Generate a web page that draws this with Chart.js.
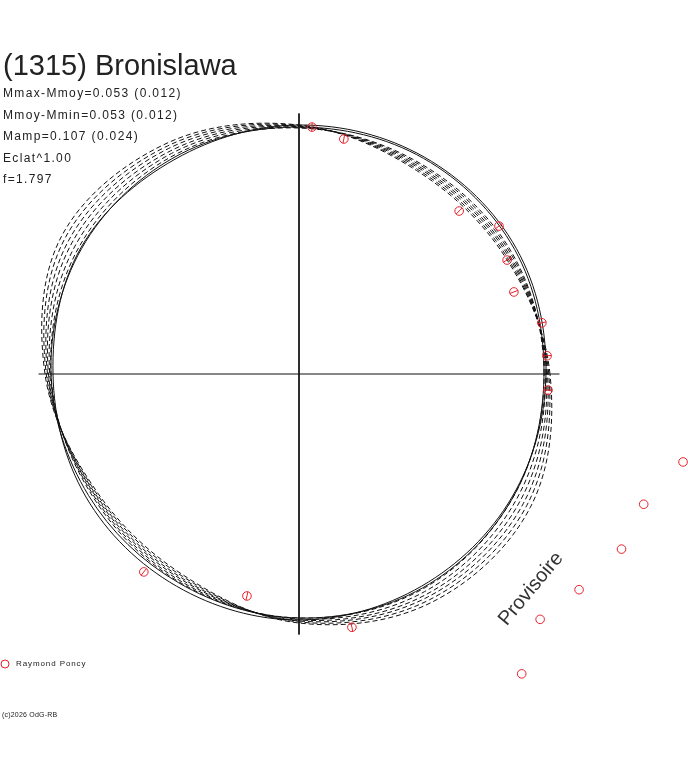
<!DOCTYPE html>
<html>
<head>
<meta charset="utf-8">
<title>(1315) Bronislawa</title>
<script src="https://cdn.jsdelivr.net/npm/chart.js@4.4.1/dist/chart.umd.min.js"></script>
<style>
  html, body { margin: 0; padding: 0; background: #fff; }
  #wrap { position: relative; width: 688px; height: 768px; }
</style>
</head>
<body>
<div id="wrap"><canvas id="polar-chart"></canvas></div>
<script>
'use strict';

// Phase angles of the model curves (deg, counter-clockwise from +x)
let phaseDeg = [0, 30, 60, 90, 120, 150, 180, 210, 240, 270, 300, 330];

// Model curves, relative flux at each phase angle
let solidA = [0.988, 1.004, 1.002, 0.996, 0.992, 1.008, 0.984, 0.984, 0.980, 0.984, 0.980, 0.984];
let solidB = [0.980, 0.996, 0.996, 0.988, 1.000, 1.004, 0.992, 0.972, 0.964, 0.976, 0.988, 0.988];
let dashed1 = [0.980, 0.980, 0.972, 0.984, 1.008, 1.016, 0.992, 0.960, 0.960, 0.976, 0.992, 0.988];
let dashed2 = [0.985, 0.974, 0.966, 0.986, 1.019, 1.032, 0.997, 0.955, 0.954, 0.980, 1.005, 1.004];
let dashed3 = [0.990, 0.967, 0.959, 0.989, 1.030, 1.049, 1.002, 0.950, 0.947, 0.984, 1.018, 1.020];
let dashed4 = [0.994, 0.961, 0.953, 0.991, 1.042, 1.065, 1.006, 0.946, 0.941, 0.988, 1.030, 1.036];
let dashed5 = [0.999, 0.954, 0.946, 0.994, 1.053, 1.082, 1.011, 0.941, 0.934, 0.992, 1.043, 1.052];
let dashed6 = [1.004, 0.948, 0.940, 0.996, 1.064, 1.098, 1.016, 0.936, 0.928, 0.996, 1.056, 1.068];

// Observations (Raymond Poncy): phase angle, relative flux, error
let obsPhase = [87.0, 79.2, 45.5, 36.5, 28.7, 20.9, 11.9, 4.2, 356.3, 231.9, 256.8, 281.8,
  347.1, 339.3, 331.5, 322.4, 314.5, 306.6];
let obsFlux = [0.989, 0.957, 0.914, 0.995, 0.949, 0.920, 0.993, 0.995, 0.998, 1.006, 0.912, 1.035,
  1.576, 1.474, 1.468, 1.414, 1.376, 1.494];
let obsErr = [0.017, 0.017, 0.017, 0.017, 0.017, 0.017, 0.017, 0.017, 0.017, 0.017, 0.017, 0.017,
  0, 0, 0, 0, 0, 0];

// Texts
let titleText = '(1315) Bronislawa';
let infoLines = ['Mmax-Mmoy=0.053 (0.012)', 'Mmoy-Mmin=0.053 (0.012)', 'Mamp=0.107 (0.024)', 'Eclat^1.00', 'f=1.797'];
let observerName = 'Raymond Poncy';
let creditText = '(c)2026 OdG-RB';
let stampText = 'Provisoire';

let axisReach = 1.042;
let red = '#e8202a';
let ink = '#111';

function toXY(angles, radii) {
  return angles.map(function (a, i) {
    let t = a * Math.PI / 180;
    return { x: radii[i] * Math.cos(t), y: radii[i] * Math.sin(t) };
  });
}

function errorBars() {
  let pts = [];
  for (let i = 0; i < obsPhase.length; i++) {
    if (!obsErr[i]) continue;
    let t = obsPhase[i] * Math.PI / 180;
    let lo = obsFlux[i] - obsErr[i];
    let hi = obsFlux[i] + obsErr[i];
    pts.push({ x: lo * Math.cos(t), y: lo * Math.sin(t) });
    pts.push({ x: hi * Math.cos(t), y: hi * Math.sin(t) });
    pts.push({ x: NaN, y: NaN });
  }
  return pts;
}

function curve(values, dashed) {
  return {
    data: toXY(phaseDeg, values),
    closed: true,
    borderColor: ink,
    borderWidth: 1,
    borderDash: dashed ? [5, 3] : [],
    tension: 0.35,
    pointRadius: 0
  };
}

// line element closes the curve smoothly (like the radar chart does)
const closedCurves = {
  id: 'closedCurves',
  afterDatasetUpdate(chart, args) {
    if (chart.data.datasets[args.index].closed) {
      args.meta.dataset._loop = true;
      args.meta.dataset._fullLoop = true;
    }
  }
};

const labels = {
  id: 'labels',
  afterDraw(chart) {
    const c = chart.ctx;
    c.save();
    c.fillStyle = '#222';
    c.textBaseline = 'alphabetic';
    c.textAlign = 'left';
    c.font = '29px "Liberation Sans", Arial, sans-serif';
    c.fillText(titleText, 3, 75);

    c.font = '12px "Liberation Sans", Arial, sans-serif';
    c.letterSpacing = '1.35px';
    for (let i = 0; i < infoLines.length; i++) {
      c.fillText(infoLines[i], 3, 97 + i * 21.5);
    }

    // legend
    c.strokeStyle = red;
    c.lineWidth = 1;
    c.beginPath();
    c.arc(5, 664, 4, 0, Math.PI * 2);
    c.stroke();
    c.font = '8px "Liberation Sans", Arial, sans-serif';
    c.letterSpacing = '0.9px';
    c.textBaseline = 'middle';
    c.fillText(observerName, 16, 664);

    c.font = '7px "Liberation Sans", Arial, sans-serif';
    c.letterSpacing = '0.2px';
    c.fillText(creditText, 2, 715);

    // stamp
    c.letterSpacing = '0px';
    c.fillStyle = '#333';
    c.font = '20px "Liberation Sans", Arial, sans-serif';
    c.translate(531, 589);
    c.rotate(-50 * Math.PI / 180);
    c.textAlign = 'center';
    c.fillText(stampText, 0, 0);
    c.restore();
  }
};

const ctx = document.getElementById('polar-chart').getContext('2d');

// eslint-disable-next-line
const myChart = new Chart(ctx, {
  type: 'line',
  data: {
    datasets: [
      {
        data: toXY(obsPhase, obsFlux),
        showLine: false,
        pointStyle: 'circle',
        pointRadius: 4.3,
        pointBorderWidth: 1,
        pointBorderColor: red,
        pointBackgroundColor: 'rgba(0,0,0,0)'
      },
      {
        data: errorBars(),
        borderColor: red,
        borderWidth: 1,
        pointRadius: 0
      },
      curve(solidA, false),
      curve(solidB, false),
      curve(dashed1, true),
      curve(dashed2, true),
      curve(dashed3, true),
      curve(dashed4, true),
      curve(dashed5, true),
      curve(dashed6, true),
      {
        data: [{ x: -axisReach, y: 0 }, { x: axisReach, y: 0 }],
        borderColor: ink,
        borderWidth: 1,
        pointRadius: 0
      },
      {
        data: [{ x: 0, y: axisReach }, { x: 0, y: -axisReach }],
        borderColor: ink,
        borderWidth: 1,
        pointRadius: 0
      }
    ]
  },
  options: {
    responsive: true,
    maintainAspectRatio: false,
    animation: false,
    layout: { padding: 0, autoPadding: false },
    plugins: {
      legend: { display: false },
      tooltip: { enabled: false }
    },
    scales: {
      x: { type: 'linear', display: false, min: -299 / 250, max: 389 / 250 },
      y: { type: 'linear', display: false, min: -394 / 250, max: 374 / 250 }
    }
  },
  plugins: [closedCurves, labels]
});
</script>
</body>
</html>
